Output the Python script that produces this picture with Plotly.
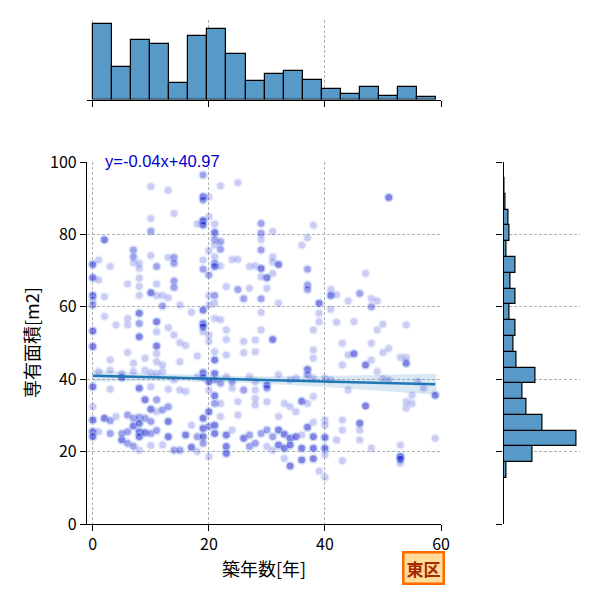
import plotly.graph_objects as go

# ---------------- data ----------------
# scatter points: (age [years], area [m2], multiplicity)
points = [
    # upper-left region
    (19,96.4,2),(10,93.2,1),(13,92.2,1),(22,93.4,1),(25,94.3,1),
    (19,90.4,3),(19,89.5,2),(20,90.3,1),(14,85.8,1),(10,84.4,1),(20,84.9,1),
    (19,83.8,4),(19,82.6,3),(18,82.9,1),(21,82.9,1),(29,83.0,2),
    (29,80.3,2),(10,80.9,2),(21,80.5,3),(31,80.8,1),
    (21,78.6,2),(22,78.0,2),(2,78.5,3),(29,78.5,1),
    (7,75.7,2),(29,75.7,2),(21,77.1,1),(22,75.9,2),(20,75.5,1),
    (7,73.8,2),(10,74.2,1),(13,73.6,1),(14,73.6,2),(31,73.8,1),(24,73.1,1),(25,73.1,1),(21,73.8,1),
    (7,72.2,1),(14,72.0,2),(1,72.9,1),(19,72.9,1),(31,72.4,1),(32,71.7,3),(21,72.0,2),
    (0,71.7,3),(3,71.1,1),(8,72.0,1),(8,70.6,1),(11,71.1,2),(19,70.4,2),(21,71.1,3),(22,71.3,1),
    (27,71.1,1),(28,71.3,1),(29,70.6,3),(31,69.2,1),
    (20,68.8,2),(30,68.0,3),(29,68.3,1),(8,67.9,1),(0,68.0,3),(1,67.4,1),
    (6,66.3,1),(8,65.6,1),(11,66.3,1),(14,67.1,2),(14,65.3,2),(23,65.6,1),(25,64.8,2),(27,65.1,1),(30,65.1,1),
    (8,63.1,1),(10,63.9,3),(11,63.1,1),(12,63.1,1),(13,62.5,1),(0,63.1,3),(2,62.8,1),(20,63.1,1),
    (21,63.1,2),(26,62.2,2),(29,62.2,2),
    (0,61.9,1),(0,60.5,2),(12,60.2,2),(15,60.5,1),(19,59.1,3),(21,61.0,1),(20,60.5,1),(17,58.5,1),
    (2,57.3,1),(4,55.0,1),(6,56.8,1),(6,55.0,1),(8,58.2,3),(8,55.4,2),(11,55.9,3),(13,54.2,1),
    (19,55.4,3),(19,54.5,3),(19,53.1,1),(21,56.8,1),(22,56.4,1),(23,53.6,1),(29,58.4,1),(29,53.6,1),
    (0,53.3,3),(11,53.1,1),(14,52.2,1),(8,51.7,3),(15,50.1,1),(20,52.2,1),(20,50.4,1),(23,51.0,1),
    (28,50.8,1),(26,50.4,1),(31,51.0,3),
    # upper-right region
    (51,90.2,3),(38,82.5,1),(37,79.1,1),(36,77.0,1),(37,70.4,2),(47,69.2,1),
    (37,66.0,2),(37,64.8,2),(41,64.8,1),(41,63.1,3),(42,63.3,1),(46,63.7,2),(44,61.6,1),(48,62.3,1),
    (49,61.6,1),(48,60.0,2),(32,61.0,1),(39,61.0,3),(39,58.2,1),(39,55.9,1),(41,59.3,1),
    (42,55.7,1),(45,55.9,1),(50,55.2,1),(54,55.0,1),(49,53.6,1),(38,53.6,1),(48,49.9,1),
    # lower-left region
    (0,49.0,3),(6,47.4,1),(11,49.2,3),(11,47.1,1),(16,49.3,1),(18,46.4,1),(21,47.6,1),(21,45.3,3),
    (23,46.7,1),(26,47.3,1),(28,47.6,1),(15,44.8,1),(3,45.3,1),(9,45.8,1),(11,44.8,1),(7,44.4,1),
    (1,42.1,1),(3,42.5,1),(5,40.5,3),(5,41.6,1),(7,42.1,1),(9,42.5,1),(10,41.8,1),(11,41.6,1),
    (12,42.1,1),(12,43.9,1),
    (0,37.9,3),(3,37.2,1),(8,37.5,3),(10,37.9,1),(13,37.2,1),(16,36.6,1),(18,40.7,1),(19,41.8,3),
    (19,40.5,2),(21,41.6,3),(21,39.8,2),(20,39.3,3),(20,37.0,1),(22,38.9,2),(23,40.7,1),(24,39.3,2),
    (24,37.5,1),(26,37.0,2),(27,40.7,1),(28,39.3,1),(30,38.4,3),(30,37.5,2),(15,37.0,1),(14,39.8,1),
    (30,33.8,1),(28,37.0,1),
    (0,28.7,3),(0,25.5,3),(0,24.1,3),(0,32.4,1),(1,25.5,1),(2,29.2,3),(3,28.5,2),(3,25.0,2),
    (4,29.7,1),(5,23.2,3),(5,25.0,2),(6,30.1,2),(6,25.5,2),(6,22.3,2),(7,29.2,2),(7,27.1,3),
    (7,21.5,2),(8,29.5,2),(8,27.8,3),(8,25.5,3),(8,24.1,3),(8,20.4,1),(9,34.3,3),(9,29.2,2),
    (9,25.2,3),(10,31.7,3),(10,28.3,2),(10,25.0,2),(10,21.7,1),(11,34.3,2),(11,31.0,1),(11,25.8,2),
    (12,31.5,2),(12,21.8,1),(13,32.4,2),(13,28.3,3),(13,24.1,3),(14,20.4,2),(15,20.4,2),(16,24.6,3),
    (17,27.3,1),(17,21.2,3),(18,24.1,2),(18,20.0,1),(19,29.2,3),(19,26.4,3),(19,24.1,3),(19,22.3,2),
    (20,31.0,3),(20,26.9,2),(20,18.6,1),(21,27.3,3),(21,25.0,3),(21,35.4,3),(21,33.3,2),(22,33.3,1),
    (22,29.7,1),(23,24.6,3),(23,21.4,3),(23,19.5,3),(24,26.0,1),(25,30.1,1),(26,23.7,3),(27,24.6,2),
    (27,21.4,2),(28,22.3,2),(29,25.0,2),(30,26.0,2),(30,21.4,1),(31,24.1,2),(31,20.4,1),(28,34.7,1),
    (28,32.9,1),(25,33.8,1),
    # lower-right region
    (38,48.1,1),(38,45.8,1),(44,46.7,1),(45,47.0,3),(47,43.9,3),(48,45.3,1),(50,47.4,1),(51,48.5,1),
    (53,46.0,1),(54,44.4,3),(54,46.0,1),(43,43.9,1),(43,49.9,1),(49,42.1,1),(50,40.2,1),(51,39.8,1),
    (37,42.7,3),(37,41.2,2),(32,41.2,1),(34,39.8,1),(35,40.3,1),(38,40.3,1),(40,40.3,1),(41,39.8,1),
    (44,37.0,1),(47,32.6,3),(54,33.8,1),(55,35.6,1),(55,33.3,1),(54,32.0,1),(57,37.5,1),(59,35.6,3),
    (56,39.3,1),(33,33.3,1),(34,32.4,1),(35,31.0,1),(36,33.9,3),(37,33.3,1),(38,35.2,1),(32,29.7,1),
    (40,28.7,1),(40,27.3,1),(43,28.7,1),(43,26.0,1),(46,27.8,3),(46,26.0,1),(37,26.7,3),(38,28.1,1),
    (32,26.0,3),(33,24.8,3),(34,23.7,3),(35,24.1,3),(36,24.6,1),(38,24.1,3),(40,23.9,3),(42,23.2,1),
    (46,23.2,1),(59,23.7,1),
    (32,21.8,3),(33,20.9,3),(34,21.8,3),(36,20.9,3),(38,20.9,3),(40,20.9,3),(48,20.9,1),(53,21.8,1),
    (33,18.1,1),(34,16.0,3),(36,17.7,3),(38,18.0,3),(40,19.1,1),(39,14.6,1),(40,12.9,1),(43,17.5,1),
    (53,18.6,4),(53,17.9,3),(53,16.8,1),
]
age = [p[0] for p in points for _ in range(p[2])]
area = [p[1] for p in points for _ in range(p[2])]

# marginal histogram of age (top): bin edges and counts
age_bin_start = 0.0
age_bin_width = 3.29
age_counts = [42, 18, 33, 31, 9, 35, 39, 25, 10, 14, 16, 11, 6, 3, 7, 2, 7, 1.5]

# marginal histogram of area (right): bin edges and counts (bottom to top)
area_bin_start = 12.7
area_bin_width = 4.36
area_counts = [3, 30, 75, 40, 24, 20, 33, 13, 10, 12, 6, 12, 7, 12, 3, 6, 5, 2, 1]

# regression (from the annotation) and its confidence band half-widths
slope, intercept = -0.04, 40.97
ci_x = [0, 10, 20, 30, 40, 50, 59.2]
ci_half = [1.6, 1.1, 0.9, 1.0, 1.5, 2.2, 2.9]

x_ticks = [0, 20, 40, 60]
y_ticks = [0, 20, 40, 60, 80, 100]
formula_text = "y=-0.04x+40.97"
ward_text = "東区"
x_title = "築年数[年]"
y_title = "専有面積[m2]"

# ---------------- figure ----------------
FONT = "Noto Sans CJK JP"
BAR = "rgb(87,153,199)"
GRID = "rgb(176,176,176)"
W = H = 600

fig = go.Figure()

# CI band
ci_lo = [intercept + slope * x - h for x, h in zip(ci_x, ci_half)]
ci_hi = [intercept + slope * x + h for x, h in zip(ci_x, ci_half)]
fig.add_trace(go.Scatter(x=ci_x + ci_x[::-1], y=ci_hi + ci_lo[::-1], fill="toself",
                         fillcolor="rgba(31,119,180,0.17)", line=dict(width=0),
                         mode="lines", hoverinfo="skip", showlegend=False,
                         xaxis="x", yaxis="y"))
# scatter
fig.add_trace(go.Scatter(x=age, y=area, mode="markers",
                         marker=dict(size=8, color="rgb(0,0,205)", opacity=0.2,
                                     line=dict(width=1.5, color="rgb(150,185,240)")),
                         showlegend=False, xaxis="x", yaxis="y"))
# regression line
line_x = [min(age), max(age)]
fig.add_trace(go.Scatter(x=line_x, y=[intercept + slope * v for v in line_x], mode="lines",
                         line=dict(color="#1f77b4", width=2.6), showlegend=False,
                         xaxis="x", yaxis="y"))

# top histogram
age_centers = [age_bin_start + (i + 0.5) * age_bin_width for i in range(len(age_counts))]
fig.add_trace(go.Bar(x=age_centers, y=age_counts, width=age_bin_width,
                     marker=dict(color=BAR, line=dict(color="black", width=1.2)),
                     showlegend=False, xaxis="x2", yaxis="y2"))
# right histogram
area_centers = [area_bin_start + (i + 0.5) * area_bin_width for i in range(len(area_counts))]
fig.add_trace(go.Bar(y=area_centers, x=area_counts, width=area_bin_width, orientation="h",
                     marker=dict(color=BAR, line=dict(color="black", width=1.2)),
                     showlegend=False, xaxis="x3", yaxis="y3"))

def px(v):
    return v / W

def py(v):
    return 1 - v / H

main_x = [px(87), px(441)]
main_y = [py(524), py(162)]

axis_common = dict(ticks="outside", ticklen=6, tickwidth=1.3, tickcolor="black",
                   showline=True, linecolor="black", linewidth=1.3, zeroline=False,
                   gridcolor=GRID, gridwidth=1, griddash="3px,2px", automargin=False,
                   tickfont=dict(family=FONT, size=16, color="black"))
hidden = dict(showgrid=False, showline=False, showticklabels=False, ticks="",
              zeroline=False, automargin=False)

fig.update_layout(
    template="none",
    width=W, height=H, margin=dict(l=0, r=0, t=0, b=0, pad=0),
    paper_bgcolor="white", plot_bgcolor="white",
    font=dict(family=FONT, color="black"),
    bargap=0,
    xaxis=dict(domain=main_x, range=[-1, 60], tickvals=x_ticks, showgrid=True,
               anchor="y", **axis_common),
    yaxis=dict(domain=main_y, range=[0, 100], tickvals=y_ticks, showgrid=True,
               anchor="x", **axis_common),
    xaxis2=dict(domain=main_x, range=[-1, 60], tickvals=x_ticks, showgrid=True,
                anchor="y2", **{**axis_common, "showticklabels": False}),
    yaxis2=dict(domain=[py(99.5), py(20)], range=[0, 42 * 1.05], anchor="x2", **hidden),
    xaxis3=dict(domain=[px(503.5), px(580)], range=[0, 75 * 1.05], anchor="y3", **hidden),
    yaxis3=dict(domain=main_y, range=[0, 100], tickvals=y_ticks, showgrid=True,
                anchor="x3", **{**axis_common, "showticklabels": False}),
)

fig.add_annotation(text=formula_text, xref="paper", yref="paper", x=px(103), y=py(161),
                   xanchor="left", yanchor="middle", showarrow=False,
                   font=dict(family="Liberation Sans", size=16.5, color="#0000cd"))
fig.add_annotation(text=x_title, xref="paper", yref="paper", x=px(264), y=py(568),
                   xanchor="center", yanchor="middle", showarrow=False,
                   font=dict(family=FONT, size=18, color="black"))
fig.add_annotation(text=y_title, xref="paper", yref="paper", x=px(31), y=py(343),
                   xanchor="center", yanchor="middle", showarrow=False, textangle=-90,
                   font=dict(family=FONT, size=18, color="black"))
fig.add_annotation(text="<b>" + ward_text + "</b>", xref="paper", yref="paper",
                   x=px(423), y=py(568), xanchor="center", yanchor="middle", showarrow=False,
                   bgcolor="#ffdc9a", bordercolor="#ff6a00", borderwidth=2.5, borderpad=2,
                   font=dict(family=FONT, size=17, color="#a62a00"))

fig.write_html("out.html")
